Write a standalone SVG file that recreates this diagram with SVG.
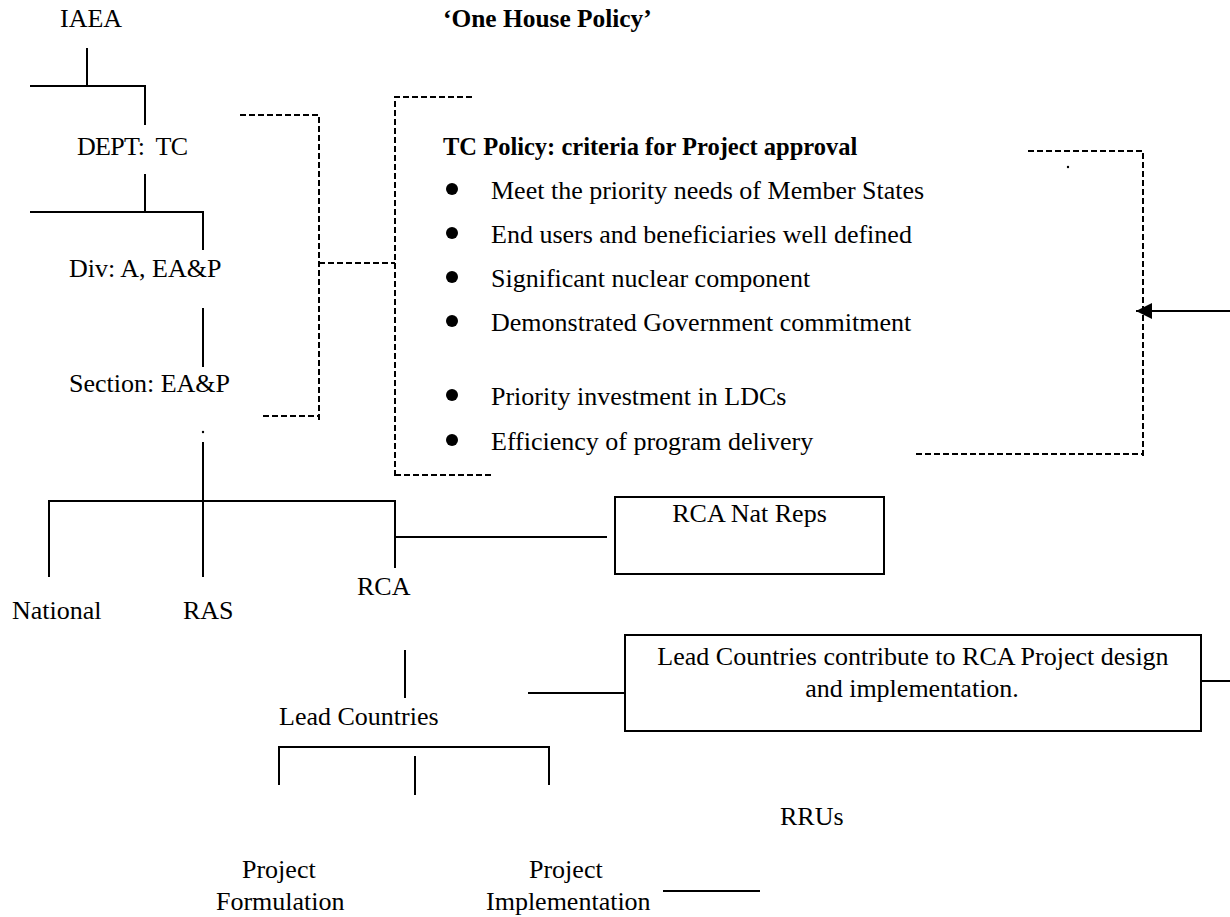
<svg xmlns="http://www.w3.org/2000/svg" width="1230" height="917" viewBox="0 0 1230 917">
<style>
text{font-family:"Liberation Serif","Times New Roman",serif;font-size:26px;fill:#000}
.b{font-weight:bold}
.m{text-anchor:middle}
.ln{stroke:#000;stroke-width:2;fill:none}
.ds{stroke:#000;stroke-width:2;fill:none;stroke-dasharray:6 3}
.box{stroke:#000;stroke-width:2;fill:#fff}
</style>
<defs>
<marker id="arrow" viewBox="0 0 16 16" refX="16" refY="8" markerWidth="16" markerHeight="16" markerUnits="userSpaceOnUse" orient="auto">
<path d="M0,0 L16,8 L0,16 z" fill="#000"/>
</marker>
</defs>
<rect width="1230" height="917" fill="#fff"/>
<g id="connectors">
<path class="ln" d="M87,48V86 M30,86H145V125 M145,174V212 M30,212H203V250 M203,308V367 M203,442V577 M49,577V501H395V568 M395,537H607 M405,650V698 M528,693H625 M1201,681H1230 M279,785V747H549V785 M415,756V795 M663,891H760"/>
<line class="ln" x1="1230" y1="311" x2="1136" y2="311" marker-end="url(#arrow)"/>
<path class="ds" d="M240,115H319V422 M263,416H319 M319,263H395 M472,97H395V477 M395,475H492 M1028,151H1143V459 M916,454H1143"/>
<circle cx="203" cy="432" r="1.2" fill="#000"/>
<circle cx="1068" cy="167" r="1.2" fill="#000"/>
</g>
<g id="iaea"><text x="60" y="27">IAEA</text></g>
<g id="one-house"><text class="b" x="443" y="27" style="font-size:25.4px">‘One House Policy’</text></g>
<g id="dept"><text x="77" y="155" xml:space="preserve" textLength="111">DEPT:  TC</text></g>
<g id="div"><text x="69" y="277">Div: A, EA&amp;P</text></g>
<g id="section"><text x="69" y="392">Section: EA&amp;P</text></g>
<g id="policy">
<text class="b" x="443" y="155" style="font-size:24.5px">TC Policy: criteria for Project approval</text>
<circle cx="452" cy="189" r="6"/><text x="491" y="199">Meet the priority needs of Member States</text>
<circle cx="452" cy="233" r="6"/><text x="491" y="243">End users and beneficiaries well defined</text>
<circle cx="452" cy="277" r="6"/><text x="491" y="287">Significant nuclear component</text>
<circle cx="452" cy="321" r="6"/><text x="491" y="331">Demonstrated Government commitment</text>
<circle cx="452" cy="395" r="6"/><text x="491" y="405">Priority investment in LDCs</text>
<circle cx="452" cy="440" r="6"/><text x="491" y="450">Efficiency of program delivery</text>
</g>
<g id="national"><text x="12" y="619">National</text></g>
<g id="ras"><text x="183" y="619">RAS</text></g>
<g id="rca"><text x="357" y="595">RCA</text></g>
<g id="natreps"><rect class="box" x="615" y="497" width="269" height="77"/><text class="m" x="749.5" y="522">RCA Nat Reps</text></g>
<g id="lead"><text x="279" y="725">Lead Countries</text></g>
<g id="leadbox"><rect class="box" x="625" y="635" width="576" height="96"/><text class="m" x="913" y="665">Lead Countries contribute to RCA Project design</text><text class="m" x="912" y="697">and implementation.</text></g>
<g id="rrus"><text x="780" y="825">RRUs</text></g>
<g id="formulation"><text x="242" y="878">Project</text><text x="216" y="910">Formulation</text></g>
<g id="implementation"><text x="529" y="878">Project</text><text x="486" y="910">Implementation</text></g>
</svg>
